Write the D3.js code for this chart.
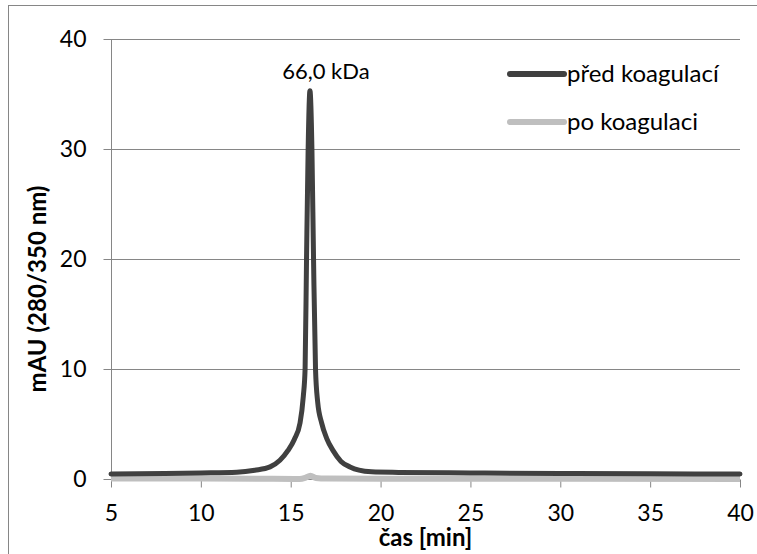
<!DOCTYPE html>
<html>
<head>
<meta charset="utf-8">
<script src="https://cdn.jsdelivr.net/npm/d3@7/dist/d3.min.js"></script>
<style>
  html, body { margin: 0; padding: 0; background: #fff; }
  svg { display: block; font-family: Lato, "Open Sans", sans-serif; }
</style>
</head>
<body>
<svg id="chart" width="757" height="554"></svg>
<script>
// Elution time (min) and absorbance (mAU) for the sample before coagulation
const timeBefore = [5, 8, 10, 12, 13, 13.85, 14.4, 14.85, 15.2, 15.52, 15.7, 15.8, 15.88, 15.97, 16.07,
                    16.18, 16.27, 16.38, 16.5, 16.72, 17.0, 17.35, 17.8, 18.3, 18.8, 19.5, 21, 25, 30, 35, 40];
const mauBefore  = [0.45, 0.5, 0.55, 0.62, 0.8, 1.1, 1.7, 2.6, 3.6, 5.1, 7.5, 10, 20, 30, 35.3,
                    30, 20, 10, 7, 5.1, 3.7, 2.6, 1.6, 1.1, 0.8, 0.65, 0.6, 0.55, 0.5, 0.47, 0.45];

// Same column after coagulation
const timeAfter = [5, 10, 14, 15.5, 15.8, 16.1, 16.4, 17, 20, 30, 40];
const mauAfter  = [0.05, 0.05, 0.02, 0.0, 0.1, 0.3, 0.1, 0.05, 0.03, 0.02, 0.0];

const seriesNames = ["před koagulací", "po koagulaci"];
const seriesColors = ["#404040", "#bfbfbf"];

const xTicks = [5, 10, 15, 20, 25, 30, 35, 40];
const yTicks = [0, 10, 20, 30, 40];

const peakLabel = "66,0 kDa";
const peakTime = 16.07;
const peakValue = 35.3;

const xTitle = "čas [min]";
const yTitle = "mAU (280/350 nm)";

const svg = d3.select("#chart");
const plot = { left: 111, right: 740, top: 39, bottom: 479 };

const x = d3.scaleLinear().domain([5, 40]).range([plot.left, plot.right]);
const y = d3.scaleLinear().domain([0, 40]).range([plot.bottom, plot.top]);

const grey = "#868686";

// outer chart frame
svg.append("rect")
  .attr("x", 8.5).attr("y", 5.5)
  .attr("width", 760).attr("height", 560)
  .attr("fill", "none").attr("stroke", grey).attr("stroke-width", 1);

// horizontal gridlines
svg.append("g")
  .selectAll("line")
  .data(yTicks.filter(d => d > 0))
  .join("line")
  .attr("x1", plot.left).attr("x2", plot.right)
  .attr("y1", d => Math.round(y(d)) + 0.5).attr("y2", d => Math.round(y(d)) + 0.5)
  .attr("stroke", grey).attr("stroke-width", 1);

// y axis
const yAxis = svg.append("g")
  .attr("transform", `translate(${plot.left + 0.5},0)`)
  .call(d3.axisLeft(y).tickValues(yTicks).tickSize(8).tickPadding(17).tickFormat(d3.format("d")));
yAxis.select(".domain").attr("stroke", grey).attr("d", `M0,${plot.top}V${plot.bottom}`);
yAxis.selectAll(".tick line").attr("stroke", grey);
yAxis.selectAll(".tick text").attr("font-size", 23).attr("fill", "#000")
  .attr("font-family", "Lato, sans-serif");

// x axis
const xAxis = svg.append("g")
  .attr("transform", `translate(0,${plot.bottom + 0.5})`)
  .call(d3.axisBottom(x).tickValues(xTicks).tickSize(8).tickPadding(17).tickFormat(d3.format("d")));
xAxis.select(".domain").attr("stroke", grey).attr("d", `M${plot.left},0H${plot.right}`);
xAxis.selectAll(".tick line").attr("stroke", grey);
xAxis.selectAll(".tick text").attr("font-size", 23).attr("fill", "#000")
  .attr("font-family", "Lato, sans-serif");

// series
const line = d3.line().x(d => x(d[0])).y(d => y(d[1])).curve(d3.curveMonotoneX);

const after = timeAfter.map((t, i) => [t, mauAfter[i]]);
const before = timeBefore.map((t, i) => [t, mauBefore[i]]);

svg.append("path")
  .datum(after)
  .attr("d", line)
  .attr("fill", "none")
  .attr("stroke", seriesColors[1])
  .attr("stroke-width", 6)
  .attr("stroke-linejoin", "round");

svg.append("path")
  .datum(before)
  .attr("d", line)
  .attr("fill", "none")
  .attr("stroke", seriesColors[0])
  .attr("stroke-width", 5)
  .attr("stroke-linejoin", "round")
  .attr("stroke-linecap", "round");

// peak annotation
svg.append("text")
  .attr("x", x(peakTime) + 16)
  .attr("y", y(peakValue) - 12)
  .attr("text-anchor", "middle")
  .attr("font-size", 22)
  .text(peakLabel);

// legend
const legend = svg.append("g");
seriesNames.forEach((name, i) => {
  const ly = 74 + i * 48;
  legend.append("line")
    .attr("x1", 510).attr("x2", 564)
    .attr("y1", ly).attr("y2", ly)
    .attr("stroke", seriesColors[i]).attr("stroke-width", 6)
    .attr("stroke-linecap", "round");
  legend.append("text")
    .attr("x", 567).attr("y", ly)
    .attr("dy", "0.32em")
    .attr("font-size", 24)
    .text(name);
});

// axis titles
svg.append("text")
  .attr("x", (plot.left + plot.right) / 2)
  .attr("y", 546)
  .attr("text-anchor", "middle")
  .attr("font-size", 24)
  .attr("font-weight", "bold")
  .text(xTitle);

svg.append("text")
  .attr("transform", "translate(46,289) rotate(-90)")
  .attr("text-anchor", "middle")
  .attr("font-size", 24)
  .attr("font-weight", "bold")
  .text(yTitle);
</script>
</body>
</html>
